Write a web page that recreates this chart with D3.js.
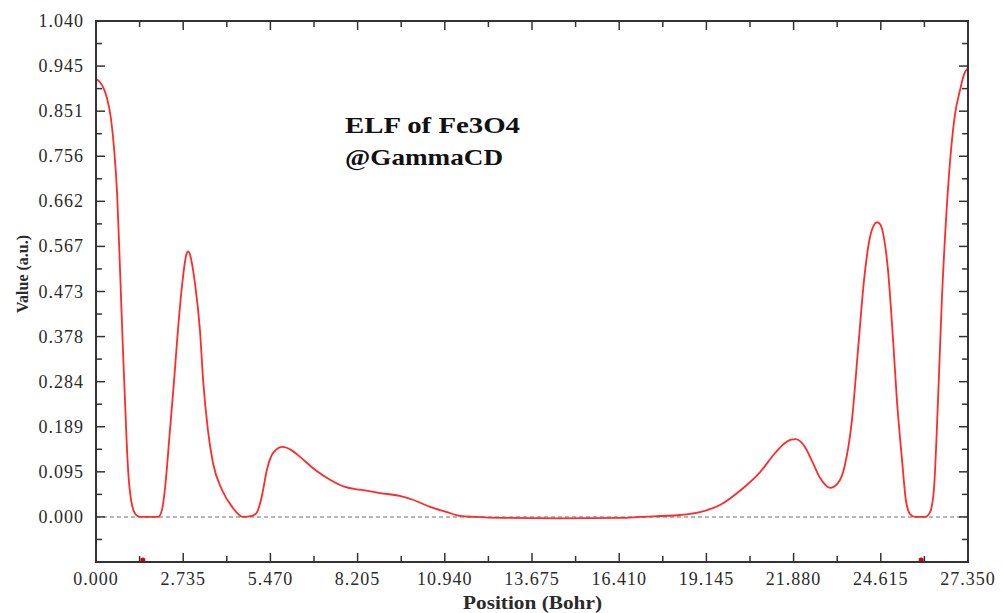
<!DOCTYPE html>
<html>
<head>
<meta charset="utf-8">
<script src="https://cdn.jsdelivr.net/npm/d3@7"></script>
<style>
  body { margin: 0; background: #fff; }
  text { font-family: "Liberation Serif", "Times New Roman", serif; }
</style>
</head>
<body>
<svg width="1003" height="613"></svg>
<script>
// ELF profile along the line
var positions = [0, 0.12, 0.25, 0.345, 0.47, 0.57, 0.66, 0.72, 0.78, 0.84, 0.90, 0.96, 1.02, 1.10, 1.20, 1.30, 1.40, 1.75, 1.95,
  2.07, 2.16, 2.32, 2.45, 2.57, 2.70, 2.79, 2.84, 2.885, 2.94, 2.99, 3.10, 3.26, 3.36, 3.51, 3.67, 3.95, 4.27, 4.61, 4.89,
  5.05, 5.21, 5.36, 5.50, 5.65, 5.82, 5.98, 6.15, 6.40, 6.87, 7.34, 7.81, 8.28, 8.91, 9.53, 9.94, 10.48, 11.01, 11.42,
  11.89, 12.67, 14.55, 16.43, 17.06, 18.32, 18.94, 19.57, 20.2, 20.83, 21.30, 21.61, 21.80, 21.95, 22.10, 22.25, 22.46, 22.71,
  23.02, 23.27, 23.49, 23.71, 23.9, 24.09, 24.28, 24.40, 24.50, 24.60, 24.70, 24.84, 25.0, 25.12, 25.28, 25.40, 25.53, 25.69,
  26.0, 26.16, 26.28, 26.41, 26.53, 26.66, 26.79, 26.94, 27.10, 27.22, 27.35];
var elfValues = [0.918, 0.912, 0.897, 0.878, 0.835, 0.770, 0.680, 0.580, 0.470, 0.360, 0.260, 0.160, 0.085, 0.035, 0.010, 0.002, 0, 0, 0,
  0.015, 0.057, 0.182, 0.287, 0.392, 0.486, 0.535, 0.552, 0.557, 0.552, 0.538, 0.492, 0.392, 0.287, 0.182, 0.113, 0.057, 0.021, 0, 0.002,
  0.010, 0.046, 0.099, 0.128, 0.141, 0.147, 0.145, 0.139, 0.126, 0.099, 0.078, 0.063, 0.057, 0.050, 0.044, 0.036, 0.021, 0.010, 0.002,
  0, -0.002, -0.003, -0.002, 0, 0.004, 0.010, 0.025, 0.055, 0.094, 0.134, 0.155, 0.162, 0.163, 0.158, 0.145, 0.117, 0.082,
  0.061, 0.071, 0.109, 0.203, 0.350, 0.497, 0.588, 0.612, 0.618, 0.613, 0.590, 0.518, 0.371, 0.245, 0.120, 0.036, 0.006, 0,
  0, 0.010, 0.057, 0.245, 0.455, 0.623, 0.748, 0.843, 0.895, 0.927, 0.941];
var criticalPoints = [1.47, 25.88];

var xTickLabels = ["0.000", "2.735", "5.470", "8.205", "10.940", "13.675", "16.410", "19.145", "21.880", "24.615", "27.350"];
var yTickLabels = ["0.000", "0.095", "0.189", "0.284", "0.378", "0.473", "0.567", "0.662", "0.756", "0.851", "0.945", "1.040"];

var margin = {left: 96, right: 35, top: 21, bottom: 51};
var width = 1003, height = 613;
var svg = d3.select("svg");

var x = d3.scaleLinear().domain([0, 27.35]).range([margin.left, width - margin.right]);
var yStep = 1.04 / 11;
var y = d3.scaleLinear().domain([-yStep, 1.04]).range([height - margin.bottom, margin.top]);

var xMajor = xTickLabels.map(function(d) { return +d; });
var xMinor = d3.range(0, 20).map(function(i) { return 1.3675 * (2 * i + 1); }).filter(function(v) { return v < 27.35; });
var yMajor = yTickLabels.map(function(d, i) { return i * yStep; });
var yMinor = d3.range(-1, 11).map(function(i) { return (i + 0.5) * yStep; });

var axisColor = "#333";

// zero line
svg.append("line")
   .attr("x1", x(0)).attr("x2", x(27.35))
   .attr("y1", y(0)).attr("y2", y(0))
   .attr("stroke", "#a0a0a0")
   .attr("stroke-width", 1.5)
   .attr("stroke-dasharray", "4,3");

// curve
var pts = positions.map(function(p, i) { return [p, elfValues[i]]; });
var line = d3.line()
             .x(function(d) { return x(d[0]); })
             .y(function(d) { return y(d[1]); })
             .curve(d3.curveMonotoneX);
svg.append("path")
   .datum(pts)
   .attr("d", line)
   .attr("fill", "none")
   .attr("stroke", "#ff2a2a")
   .attr("stroke-width", 1.8);

// critical point markers
svg.selectAll("circle.cp")
   .data(criticalPoints)
   .enter()
   .append("circle")
   .attr("cx", function(d) { return x(d); })
   .attr("cy", y(-yStep) - 2)
   .attr("r", 2.5)
   .attr("fill", "#e00000");

// ticks, all pointing inward
var bottomY = y(-yStep), topY = y(1.04), leftX = x(0), rightX = x(27.35);
function tickLines(vals, len, side) {
  svg.selectAll(null)
     .data(vals)
     .enter()
     .append("line")
     .attr("stroke", axisColor)
     .attr("stroke-width", 1.5)
     .attr("x1", function(d) { return side == "b" || side == "t" ? x(d) : (side == "l" ? leftX : rightX); })
     .attr("x2", function(d) { return side == "b" || side == "t" ? x(d) : (side == "l" ? leftX + len : rightX - len); })
     .attr("y1", function(d) { return side == "l" || side == "r" ? y(d) : (side == "b" ? bottomY : topY); })
     .attr("y2", function(d) { return side == "l" || side == "r" ? y(d) : (side == "b" ? bottomY - len : topY + len); });
}
tickLines(xMajor, 9, "b"); tickLines(xMinor, 6, "b");
tickLines(xMajor, 9, "t"); tickLines(xMinor, 6, "t");
tickLines(yMajor, 9, "l"); tickLines(yMinor, 6, "l");
tickLines(yMajor, 9, "r"); tickLines(yMinor, 6, "r");

// frame
svg.append("rect")
   .attr("x", leftX).attr("y", topY)
   .attr("width", rightX - leftX).attr("height", bottomY - topY)
   .attr("fill", "none")
   .attr("stroke", axisColor)
   .attr("stroke-width", 2);

// tick labels
svg.selectAll("text.xl")
   .data(xTickLabels)
   .enter()
   .append("text")
   .attr("x", function(d) { return x(+d); })
   .attr("y", 585)
   .attr("text-anchor", "middle")
   .attr("font-size", 18)
   .attr("letter-spacing", 1)
   .attr("fill", "#2a2a2a")
   .text(function(d) { return d; });

svg.selectAll("text.yl")
   .data(yTickLabels)
   .enter()
   .append("text")
   .attr("x", 84)
   .attr("y", function(d, i) { return y(yMajor[i]) + 6; })
   .attr("text-anchor", "end")
   .attr("font-size", 18)
   .attr("letter-spacing", 1)
   .attr("fill", "#2a2a2a")
   .text(function(d) { return d; });

// axis titles
svg.append("text")
   .attr("x", 463).attr("y", 609)
   .attr("font-size", 18)
   .attr("font-weight", "bold")
   .attr("fill", "#2a2a2a")
   .attr("textLength", 139)
   .attr("lengthAdjust", "spacingAndGlyphs")
   .text("Position (Bohr)");

svg.append("text")
   .attr("transform", "translate(28,274) rotate(-90)")
   .attr("text-anchor", "middle")
   .attr("font-size", 16)
   .attr("font-weight", "bold")
   .attr("fill", "#2a2a2a")
   .text("Value (a.u.)");

// annotation
svg.append("text")
   .attr("x", 345).attr("y", 133)
   .attr("font-size", 23)
   .attr("font-weight", "bold")
   .attr("fill", "#111")
   .attr("textLength", 175)
   .attr("lengthAdjust", "spacingAndGlyphs")
   .text("ELF of Fe3O4");
svg.append("text")
   .attr("x", 345).attr("y", 165)
   .attr("font-size", 23)
   .attr("font-weight", "bold")
   .attr("fill", "#111")
   .attr("textLength", 158)
   .attr("lengthAdjust", "spacingAndGlyphs")
   .text("@GammaCD");
</script>
</body>
</html>
